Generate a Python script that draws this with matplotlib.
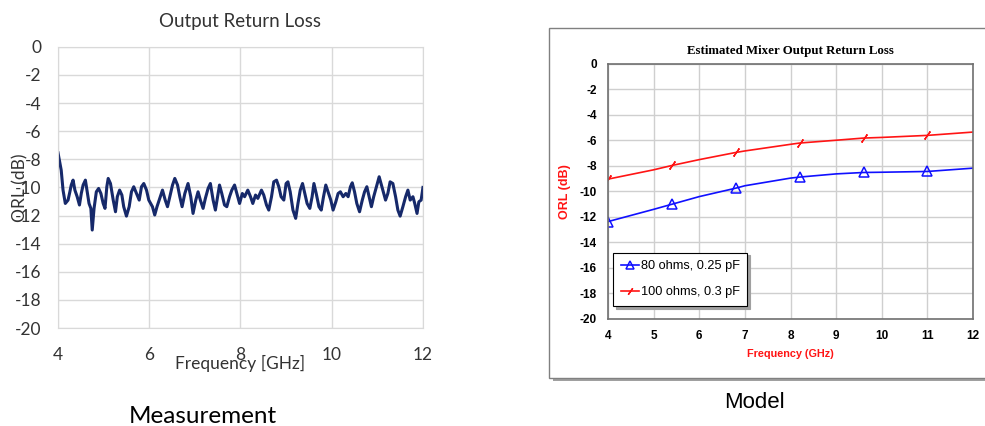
"""
Output return loss: measurement (left) vs. model estimate (right).
Saves to out.png
"""
import matplotlib.pyplot as plt
from matplotlib.patches import Rectangle

plt.rcParams['axes.unicode_minus'] = False

meas_freq_ghz = [
    4.00, 4.07, 4.11, 4.16, 4.22, 4.26, 4.29, 4.33, 4.37, 4.42, 4.47, 4.51, 4.55, 4.60,
    4.64, 4.68, 4.72, 4.75, 4.79, 4.84, 4.89, 4.94, 4.99, 5.03, 5.07, 5.10, 5.15, 5.21,
    5.26, 5.30, 5.35, 5.40, 5.44, 5.50, 5.56, 5.61, 5.66, 5.72, 5.78, 5.83, 5.88, 5.94,
    5.99, 6.07, 6.12, 6.17, 6.23, 6.29, 6.35, 6.40, 6.45, 6.51, 6.56, 6.62, 6.67, 6.72,
    6.78, 6.85, 6.91, 6.96, 7.02, 7.07, 7.12, 7.18, 7.23, 7.29, 7.34, 7.40, 7.45, 7.51,
    7.54, 7.59, 7.65, 7.70, 7.76, 7.81, 7.87, 7.92, 7.98, 8.04, 8.09, 8.16, 8.22, 8.27,
    8.33, 8.38, 8.46, 8.51, 8.57, 8.62, 8.68, 8.73, 8.79, 8.84, 8.89, 8.95, 9.00, 9.04,
    9.09, 9.15, 9.21, 9.26, 9.31, 9.36, 9.41, 9.46, 9.52, 9.57, 9.61, 9.66, 9.72, 9.77,
    9.82, 9.87, 9.92, 9.98, 10.03, 10.09, 10.14, 10.19, 10.25, 10.31, 10.36, 10.41,
    10.45, 10.50, 10.55, 10.61, 10.67, 10.72, 10.77, 10.82, 10.87, 10.92, 10.98, 11.04,
    11.09, 11.14, 11.18, 11.23, 11.28, 11.34, 11.40, 11.45, 11.50, 11.56, 11.62, 11.67,
    11.72, 11.78, 11.82, 11.87, 11.91, 11.96, 12.00,
]
meas_orl_db = [
    -7.54, -8.77, -10.19, -11.14, -10.90, -10.31, -9.83, -9.48, -10.19, -10.66, -11.25,
    -10.43, -9.83, -9.48, -10.31, -11.14, -11.49, -13.03, -11.49, -10.31, -10.07, -10.43,
    -11.14, -11.49, -9.95, -9.36, -9.72, -10.90, -11.73, -10.66, -10.19, -10.54, -11.37,
    -12.04, -11.37, -10.31, -9.95, -10.43, -10.90, -9.95, -9.72, -10.19, -10.90, -11.37,
    -11.96, -11.37, -10.78, -10.19, -10.90, -11.37, -10.66, -9.83, -9.36, -9.83, -10.66,
    -11.37, -10.43, -9.72, -10.66, -11.85, -10.90, -10.31, -10.90, -11.49, -10.78, -10.07,
    -9.72, -10.90, -11.61, -10.43, -9.83, -10.43, -11.25, -11.37, -10.66, -10.19, -9.83,
    -10.43, -11.14, -10.43, -10.66, -10.19, -10.66, -11.14, -10.54, -10.78, -10.19, -10.54,
    -11.25, -11.61, -10.66, -9.60, -9.48, -9.95, -10.66, -10.90, -9.72, -9.60, -10.31,
    -11.61, -12.20, -11.14, -10.19, -9.72, -10.43, -11.14, -11.49, -10.66, -9.72, -10.43,
    -11.37, -11.61, -10.66, -9.83, -10.31, -10.90, -11.61, -11.02, -10.43, -10.31, -10.66,
    -10.43, -10.66, -9.95, -9.67, -10.31, -11.14, -11.73, -10.90, -10.31, -9.95, -10.66,
    -11.37, -10.66, -9.95, -9.24, -9.83, -10.43, -10.90, -10.43, -9.60, -9.72, -10.66,
    -11.61, -12.04, -11.37, -10.66, -10.19, -10.90, -10.66, -11.14, -11.85, -11.02, -10.90,
    -10.00,
]

# model curves
model_freq_ghz = [4.0, 5.0, 5.4, 6.0, 6.8, 7.0, 8.0, 8.2, 9.0, 9.6, 10.0, 11.0, 12.0]
orl_80ohm_db = [-12.36, -11.4, -11.0, -10.4, -9.74, -9.55, -8.95, -8.87, -8.62, -8.51, -8.49, -8.43, -8.17]
orl_100ohm_db = [-9.03, -8.3, -7.96, -7.5, -6.94, -6.82, -6.3, -6.2, -5.98, -5.81, -5.76, -5.6, -5.34]
marker_idx = [0, 2, 4, 7, 9, 11]  # markers every 1.4 GHz

xticks_meas = [4, 6, 8, 10, 12]
xticks_model = [4, 5, 6, 7, 8, 9, 10, 11, 12]
yticks = list(range(0, -21, -2))

fig = plt.figure(figsize=(9.85, 4.26), dpi=100)

# ---- left: measurement (Excel-like look)
excel_font = 'Lato'
ax1 = fig.add_axes([0.0589, 0.230, 0.3705, 0.660])
ax1.plot(meas_freq_ghz, meas_orl_db, color='#16296A', linewidth=2.2)
ax1.set_xlim(4, 12)
ax1.set_ylim(-20, 0)
ax1.set_xticks(xticks_meas)
ax1.set_yticks(yticks)
ax1.grid(True, color='#D9D9D9', linewidth=1)
for s in ax1.spines.values():
    s.set_color('#D9D9D9')
ax1.tick_params(length=0, labelsize=12.5, colors='#333333', pad=12)
ax1.tick_params(axis='x', pad=14)
for lab in ax1.get_xticklabels() + ax1.get_yticklabels():
    lab.set_family(excel_font)
ax1.set_title('Output Return Loss', fontsize=13.5, family=excel_font, color='#333333', pad=14)
ax1.set_xlabel('Frequency [GHz]', fontsize=12.5, family=excel_font, color='#333333')
ax1.xaxis.label.set_va('center')
ax1.xaxis.set_label_coords(0.5, -0.125)
ax1.set_ylabel('ORL (dB)', fontsize=12.5, family=excel_font, color='#333333')
ax1.yaxis.label.set_va('center')
ax1.yaxis.set_label_coords(-0.104, 0.5)
fig.text(0.206, 0.023, 'Measurement', fontsize=17.5, family=excel_font, ha='center', va='center')

# ---- right: model (box with shadow)
fig.patches.append(Rectangle((0.5614, 0.105), 0.45, 0.825, transform=fig.transFigure,
                             facecolor='#A0A0A0', edgecolor='none', zorder=-2))
fig.patches.append(Rectangle((0.5574, 0.112), 0.45, 0.822, transform=fig.transFigure,
                             facecolor='white', edgecolor='#808080', linewidth=1, zorder=-1))

ax2 = fig.add_axes([0.6173, 0.2512, 0.3705, 0.5986])
ax2.set_zorder(2)
ax2.plot(model_freq_ghz, orl_80ohm_db, color='#1010FF', linewidth=1.2, marker='^',
         markevery=marker_idx, markersize=6.5, markerfacecolor='none', markeredgewidth=1.1,
         label='80 ohms, 0.25 pF')
ax2.plot(model_freq_ghz, orl_100ohm_db, color='#FF1414', linewidth=1.2, marker=(2, 2, -35),
         markevery=marker_idx, markersize=7, markeredgewidth=1.0,
         label='100 ohms, 0.3 pF')
ax2.set_xlim(4, 12)
ax2.set_ylim(-20, 0)
ax2.set_xticks(xticks_model)
ax2.set_yticks(yticks)
ax2.grid(True, color='#CFCFCF', linewidth=1)
for s in ax2.spines.values():
    s.set_color('#707070')
    s.set_linewidth(1.2)
ax2.tick_params(length=0, labelsize=8.5, pad=8)
for lab in ax2.get_xticklabels() + ax2.get_yticklabels():
    lab.set_family('Liberation Sans')
    lab.set_fontweight('bold')
ax2.set_title('Estimated Mixer Output Return Loss', fontsize=9.3, family='Liberation Serif',
              fontweight='bold', pad=7)
ax2.set_xlabel('Frequency (GHz)', fontsize=7.8, family='Liberation Sans', fontweight='bold',
               color='#FF1414', labelpad=5)
ax2.set_ylabel('ORL (dB)', fontsize=9, family='Liberation Sans', fontweight='bold',
               color='#FF1414', labelpad=6)
leg = ax2.legend(loc='lower left', bbox_to_anchor=(0.014, 0.051), borderaxespad=0,
                 prop={'family': 'Liberation Sans', 'size': 9.2}, handlelength=1.4,
                 handletextpad=0.15, borderpad=0.6, labelspacing=1.1, fancybox=False,
                 markerscale=0.8, shadow={'color': '#A0A0A0', 'alpha': 1})
leg.get_frame().set_edgecolor('black')
leg.get_frame().set_linewidth(0.8)
fig.text(0.766, 0.054, 'Model', fontsize=16, family='Liberation Sans', ha='center', va='center')

fig.savefig('out.png', dpi=100)
